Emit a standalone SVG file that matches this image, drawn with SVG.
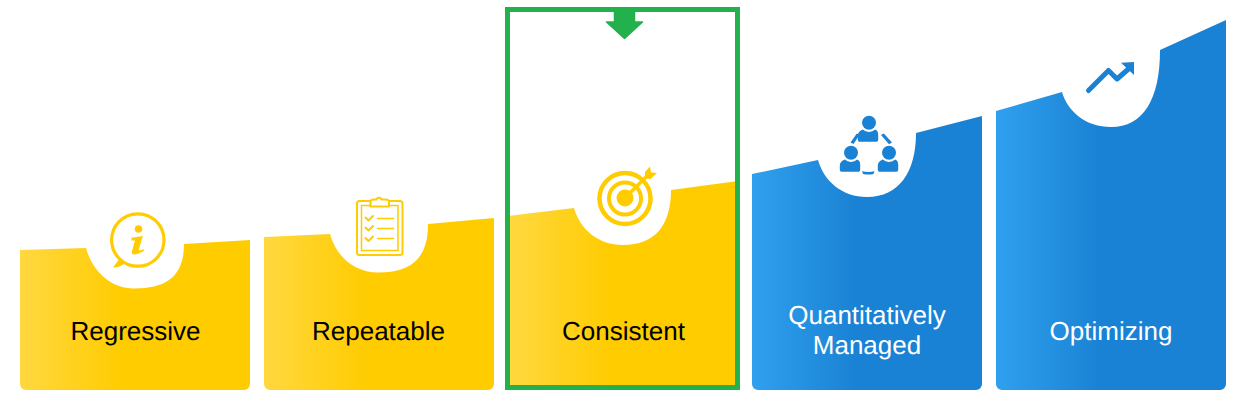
<svg xmlns="http://www.w3.org/2000/svg" width="1254" height="410" viewBox="0 0 1254 410">
<style>
text{font-family:"Liberation Sans",Arial,sans-serif;font-size:26px;text-anchor:middle;text-rendering:geometricPrecision}
.dark{fill:#000}.light{fill:#fff}
.yl{fill:none;stroke:#ffcc00;stroke-linecap:round;stroke-linejoin:round}
.yf{fill:#ffcc00}
.bf{fill:#1a82d4}
.bl{fill:none;stroke:#1a82d4;stroke-linecap:round;stroke-linejoin:round}
</style>
<defs>
<linearGradient id="gy" x1="0" y1="0" x2="1" y2="0"><stop offset="0" stop-color="#ffd840"/><stop offset="0.45" stop-color="#ffcc00"/></linearGradient>
<linearGradient id="gb" x1="0" y1="0" x2="1" y2="0"><stop offset="0" stop-color="#30a0ee"/><stop offset="0.45" stop-color="#1a82d4"/></linearGradient>
</defs>
<g id="node-regressive">
<path fill="url(#gy)" d="M20 250L86 248C92 270 110 288.500 134 288.500C168 288.500 184 275 184 244L250 240V384a6 6 0 0 1-6 6H26a6 6 0 0 1-6-6Z"/>
<circle class="yl" cx="137.800" cy="240" r="26.200" stroke-width="3.200"/>
<path class="yf" d="M119 259.500L113 267.500C118.500 267.500 122 265.500 125 263Z"/>
<circle class="yf" cx="138.500" cy="229" r="3.800"/>
<path class="yf" d="M131.500 237.800L142.800 236L138.700 249.800Q138.800 251.500 143.500 249.300L144.300 250.800Q138 254.500 133.800 254.500Q131.300 254.500 132 251L135 240.500L131.500 240.500Z"/>
<text class="dark" x="135.500" y="340">Regressive</text>
</g>
<g id="node-repeatable">
<path fill="url(#gy)" d="M264 237L330 234C336 256 354 272.500 378 272.500C412 272.500 428 258 428 224L494 218V384a6 6 0 0 1-6 6H270a6 6 0 0 1-6-6Z"/>
<rect class="yl" x="357" y="201" width="45.500" height="54" rx="2.500" stroke-width="2"/>
<rect class="yl" x="361.500" y="205.500" width="36.500" height="45" stroke-width="1.500"/>
<path d="M370.500 206.500V201.500C370.500 200 372 199.500 374 199.500H376.500C377 197 381 197 381.500 199.500H384.500C387 199.500 389 200 389 201.500V206.500Z" fill="#fff" stroke="#ffcc00" stroke-width="2" stroke-linejoin="round"/>
<path class="yl" stroke-width="2" d="M365.500 217.500L368.500 220.500L373 216M365.500 227.500L368.500 230.500L373 226M365.500 238L368.500 241L373 236.500"/>
<path class="yl" stroke-width="1.500" d="M377.500 218.500H393.500M377.500 228.500H393.500M377.500 238.500H393.500"/>
<text class="dark" x="378.500" y="340">Repeatable</text>
</g>
<g id="node-consistent">
<path fill="url(#gy)" d="M508 216L574 208C580 229 598 245 623 245C655 245 671 225 671 190L738 181V390H508Z"/>
<circle class="yl" cx="625" cy="198.500" r="25.500" stroke-width="4.500"/>
<circle class="yl" cx="625" cy="198.500" r="16" stroke-width="4"/>
<circle class="yf" cx="625" cy="198" r="8.500"/>
<path class="yl" stroke-width="3.500" d="M630 193L648 175"/>
<path class="yf" d="M645 172L650 166.500L651 172.500L657 173L650.500 179L645 178.500Z"/>
<text class="dark" x="623.500" y="340">Consistent</text>
</g>
<g id="node-quantitatively-managed">
<path fill="url(#gb)" d="M752 174L818 160C824 181 842 197 867 197C899 197 916 172 916 133L982 116V384a6 6 0 0 1-6 6H758a6 6 0 0 1-6-6Z"/>
<circle class="bf" cx="869" cy="122.800" r="7"/>
<path class="bf" d="M857.800 140V135.500C857.800 132.500 860 130.500 862.800 129.500A9 9 0 0 0 875.200 129.500C877.800 130.500 878.200 132.500 878.200 135.500V140Q878.200 141.800 876.500 141.800H859.500Q857.800 141.800 857.800 140Z"/>
<circle class="bf" cx="851" cy="152.800" r="7"/>
<path class="bf" d="M839.800 170V165.500C839.800 162.500 842 160.500 844.800 159.500A9 9 0 0 0 857.200 159.500C859.800 160.500 860.200 162.500 860.200 165.500V170Q860.200 171.800 858.500 171.800H841.500Q839.800 171.800 839.800 170Z"/>
<circle class="bf" cx="889" cy="152.800" r="7"/>
<path class="bf" d="M877.800 170V165.500C877.800 162.500 880 160.500 882.800 159.500A9 9 0 0 0 895.200 159.500C897.800 160.500 898.200 162.500 898.200 165.500V170Q898.200 171.800 896.500 171.800H879.500Q877.800 171.800 877.800 170Z"/>
<path class="bf" d="M856.800 133.500L859.500 135L853.500 144L850.500 142.500ZM881 135L883.800 133.500L892 142.500L889 144.200ZM862 171.300Q868.300 172.600 874.600 171.300L873.500 174Q868.300 175 863.100 174Z"/>
<text class="light" x="867" y="324">Quantitatively</text>
<text class="light" x="867" y="354">Managed</text>
</g>
<g id="node-optimizing">
<path fill="url(#gb)" d="M996 111L1062 92C1068 112 1086 127 1111 127C1143 127 1160 100 1160 50L1226 20V384a6 6 0 0 1-6 6H1002a6 6 0 0 1-6-6Z"/>
<path class="bl" stroke-width="5" d="M1088.500 90.500L1108.500 70.500L1117 79L1129 68.500"/>
<path class="bf" d="M1121 62.700L1134 62L1134 75Z"/>
<text class="light" x="1111" y="340">Optimizing</text>
</g>
<g id="connectors">
<rect x="507.500" y="9.500" width="230" height="378" fill="none" stroke="#23b14d" stroke-width="5"/>
<path fill="#23b14d" stroke="#23b14d" stroke-width="1.500" stroke-linejoin="round" d="M614.500 10H634.500V22H642.500L624.500 38.500L606.500 22H614.500Z"/>
</g>
</svg>
